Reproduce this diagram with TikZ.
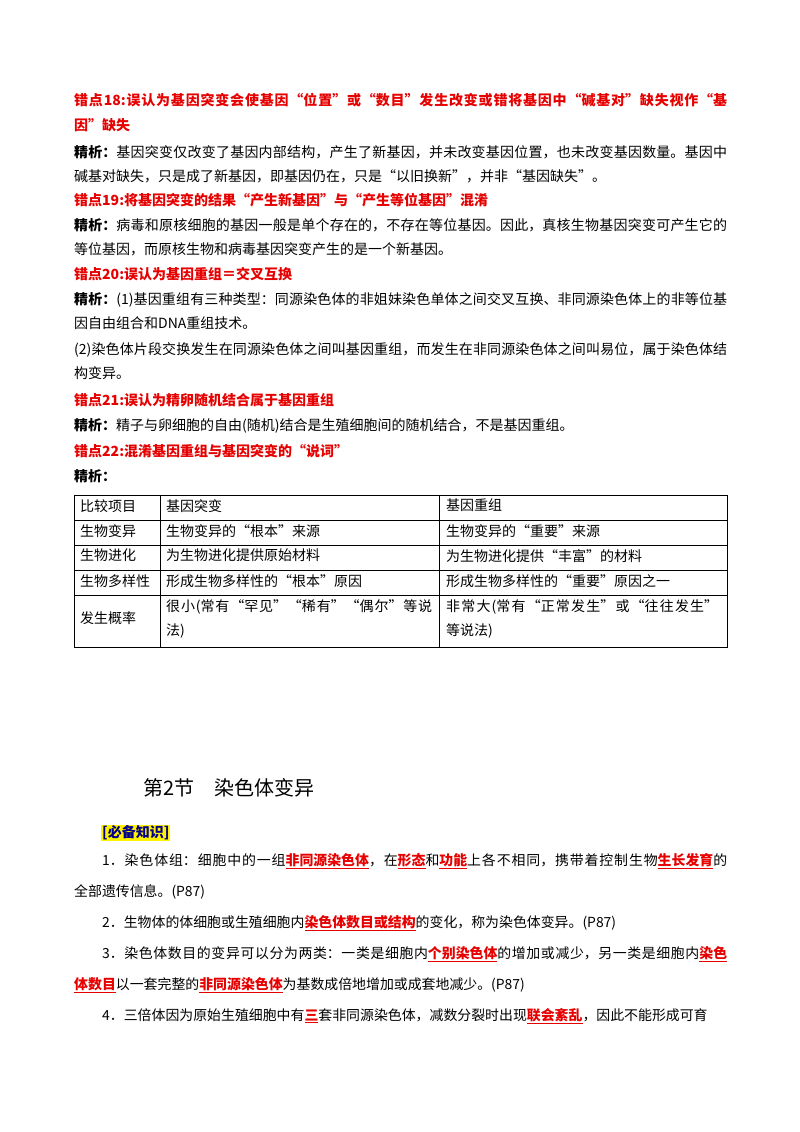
\documentclass[tikz,border=0pt]{standalone}
\usepackage{fontspec}
\setmainfont{Noto Sans CJK SC}
\XeTeXlinebreaklocale "zh"
\XeTeXlinebreakskip=0pt plus 1pt minus 0.3pt
\definecolor{errred}{RGB}{230,0,0}
\definecolor{navy}{RGB}{0,0,140}
\newcommand{\hlw}[1]{{\color{errred}$\underline{\hbox{\bfseries #1}}$}}
\tikzset{
  para/.style={anchor=north west,inner sep=0pt,text width=653pt,align=justify,font=\fontsize{14}{24.5}\selectfont},
  head/.style={para,text=errred,font=\fontsize{14}{25.5}\selectfont\bfseries},
  item/.style={anchor=north west,inner sep=0pt,text width=653pt,align=justify,font=\fontsize{13.9}{31}\selectfont},
  cell/.style={anchor=north west,inner sep=0pt,font=\fontsize{14}{24}\selectfont,align=left},
  grid/.style={line width=0.8pt}
}
\begin{document}
\begin{tikzpicture}[x=1pt,y=-1pt]
\useasboundingbox[fill=white] (0,0) rectangle (800,1132);
\node[head] (h18) at (74,93) {错点18:误认为基因突变会使基因“位置”或“数目”发生改变或错将基因中“碱基对”缺失视作“基\linebreak 因”缺失};
\node[para] (p18) at (74,145) {\textbf{精析：}基因突变仅改变了基因内部结构，产生了新基因，并未改变基因位置，也未改变基因数量。基因中\linebreak 碱基对缺失，只是成了新基因，即基因仍在，只是“以旧换新”，并非“基因缺失”。};
\node[head] (h19) at (74,193) {错点19:将基因突变的结果“产生新基因”与“产生等位基因”混淆};
\node[para] (p19) at (74,218) {\textbf{精析：}病毒和原核细胞的基因一般是单个存在的，不存在等位基因。因此，真核生物基因突变可产生它的\linebreak 等位基因，而原核生物和病毒基因突变产生的是一个新基因。};
\node[head] (h20) at (74,267) {错点20:误认为基因重组＝交叉互换};
\node[para] (p20) at (74,292) {\textbf{精析：}(1)基因重组有三种类型：同源染色体的非姐妹染色单体之间交叉互换、非同源染色体上的非等位基\linebreak 因自由组合和DNA重组技术。};
\node[para] (p20b) at (74,342) {(2)染色体片段交换发生在同源染色体之间叫基因重组，而发生在非同源染色体之间叫易位，属于染色体结\linebreak 构变异。};
\node[head] (h21) at (74,393) {错点21:误认为精卵随机结合属于基因重组};
\node[para] (p21) at (74,418) {\textbf{精析：}精子与卵细胞的自由(随机)结合是生殖细胞间的随机结合，不是基因重组。};
\node[head] (h22) at (74,444) {错点22:混淆基因重组与基因突变的“说词”};
\node[para] (p22) at (74,469) {\textbf{精析：}};
% table
\draw[grid] (74,495) rectangle (727,647);
\foreach \yy in {520,545,570,595} \draw[grid] (74,\yy) -- (727,\yy);
\draw[grid] (160,495) -- (160,647);
\draw[grid] (439,495) -- (439,647);
\node[cell] (c11) at (80,499) {比较项目};
\node[cell] (c12) at (166,499) {基因突变};
\node[cell] (c13) at (446,499) {基因重组};
\node[cell] (c21) at (80,524) {生物变异};
\node[cell] (c22) at (166,524) {生物变异的“根本”来源};
\node[cell] (c23) at (446,524) {生物变异的“重要”来源};
\node[cell] (c31) at (80,549) {生物进化};
\node[cell] (c32) at (166,549) {为生物进化提供原始材料};
\node[cell] (c33) at (446,549) {为生物进化提供“丰富”的材料};
\node[cell] (c41) at (80,574) {生物多样性};
\node[cell] (c42) at (166,574) {形成生物多样性的“根本”原因};
\node[cell] (c43) at (446,574) {形成生物多样性的“重要”原因之一};
\node[cell] (c51) at (80,611) {发生概率};
\node[cell,text width=266pt,align=justify] (c52) at (166,599) {很小(常有“罕见”“稀有”“偶尔”等说\linebreak 法)};
\node[cell,text width=272pt,align=justify] (c53) at (446,599) {非常大(常有“正常发生”或“往往发生”\linebreak 等说法)};
% section
\node[anchor=west,inner sep=0pt,font=\fontsize{20}{24}\selectfont] (sec) at (143,788) {第2节\quad 染色体变异};
\node[anchor=west,inner sep=1pt,fill=yellow,text=navy,font=\fontsize{14}{16}\selectfont\bfseries] (bk) at (101,833) {[必备知识]};
\node[item] (i1) at (74,853) {\hspace*{28pt}1．染色体组：细胞中的一组\hlw{非同源染色体}，在\hlw{形态}和\hlw{功能}上各不相同，携带着控制生物\hlw{生长发育}的\linebreak 全部遗传信息。(P87)};
\node[item] (i2) at (74,915) {\hspace*{28pt}2．生物体的体细胞或生殖细胞内\hlw{染色体数目或结构}的变化，称为染色体变异。(P87)};
\node[item] (i3) at (74,946) {\hspace*{28pt}3．染色体数目的变异可以分为两类：一类是细胞内\hlw{个别染色体}的增加或减少，另一类是细胞内\hlw{染色}\linebreak \hlw{体数目}以一套完整的\hlw{非同源染色体}为基数成倍地增加或成套地减少。(P87)};
\node[item] (i4) at (74,1008) {\parfillskip=0pt\hspace*{28pt}4．三倍体因为原始生殖细胞中有\hlw{三}套非同源染色体，减数分裂时出现\hlw{联会紊乱}，因此不能形成可育};
\end{tikzpicture}
\end{document}
